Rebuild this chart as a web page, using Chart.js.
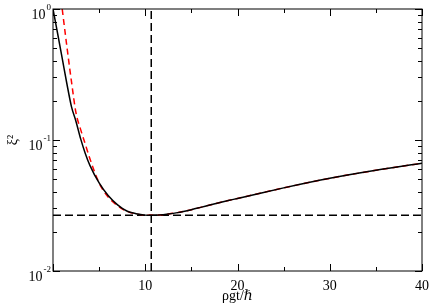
<!DOCTYPE html>
<html>
<head>
<meta charset="utf-8">
<script src="https://cdn.jsdelivr.net/npm/chart.js@4/dist/chart.umd.min.js"></script>
<style>
  html, body { margin: 0; padding: 0; background: #fff; }
  canvas { display: block; }
</style>
</head>
<body>
<canvas id="myChart" width="436" height="305"></canvas>
<script>
// black solid curve
const xBlack = [0, 0.5, 1, 1.5, 2, 2.5, 3, 3.5, 4, 5, 6, 7, 8, 9, 10, 10.65, 11.5, 12.5, 13.5, 15, 16, 17, 18, 19, 20, 22, 25, 30, 35, 40];
const yBlack = [1.0, 0.65, 0.42, 0.27, 0.18, 0.138, 0.102, 0.079, 0.064, 0.047, 0.0375, 0.032, 0.0287, 0.0274, 0.0267, 0.0266, 0.02672, 0.0272, 0.0279, 0.0294, 0.0306, 0.0319, 0.0332, 0.0345, 0.0358, 0.0386, 0.0431, 0.051, 0.0587, 0.0664];

// red dashed curve
const xRed = [1, 1.5, 2, 2.5, 3, 3.5, 4, 5, 6, 7, 8, 9, 10, 10.65, 11.5, 12.5, 13.5, 15, 16, 17, 18, 19, 20, 22, 25, 30, 35, 40];
const yRed = [1.0, 0.52, 0.28, 0.16, 0.12, 0.093, 0.072, 0.047, 0.0365, 0.0315, 0.0286, 0.0273, 0.0267, 0.0266, 0.02672, 0.0272, 0.0279, 0.0294, 0.0306, 0.0319, 0.0332, 0.0345, 0.0358, 0.0386, 0.0431, 0.051, 0.0587, 0.0664];

// dashed guide lines (minimum value and its position)
const xMin = [10.65, 10.65];
const yMinSpan = [0.01, 1];
const xSpan = [0, 40];
const yMin = [0.0266, 0.0266];

// axis ticks
const xTickLabels = [10, 20, 30, 40];
const yTickValues = [0.01, 0.1, 1];
const yTickExps = ['-2', '-1', '0'];

const FONT = "'Liberation Serif', 'DejaVu Serif', serif";

function pts(xs, ys) {
    return xs.map((x, i) => ({ x: x, y: ys[i] }));
}

// frame with inward ticks on all four sides, plus the 10^n labels
const frameTicks = {
    id: 'frameTicks',
    afterDraw(chart) {
        const { ctx, chartArea: a, scales } = chart;
        const x = scales.x, y = scales.y;
        ctx.save();
        ctx.strokeStyle = '#000';
        ctx.lineWidth = 1;
        ctx.strokeRect(a.left, a.top, a.right - a.left, a.bottom - a.top);
        ctx.beginPath();
        for (let v = 0; v <= 40; v += 5) {
            const len = v % 10 === 0 ? 7 : 4;
            const px = Math.round(x.getPixelForValue(v)) + 0.5;
            ctx.moveTo(px, a.bottom); ctx.lineTo(px, a.bottom - len);
            ctx.moveTo(px, a.top); ctx.lineTo(px, a.top + len);
        }
        for (let k = -2; k <= 0; k++) {
            for (let m = 1; m <= 9; m++) {
                const v = m * Math.pow(10, k);
                if (v > 1) break;
                const len = m === 1 ? 7 : 4;
                const py = Math.round(y.getPixelForValue(v)) + 0.5;
                ctx.moveTo(a.left, py); ctx.lineTo(a.left + len, py);
                ctx.moveTo(a.right, py); ctx.lineTo(a.right - len, py);
            }
        }
        ctx.stroke();

        // y labels: "10" with a raised exponent
        ctx.fillStyle = '#000';
        ctx.textBaseline = 'alphabetic';
        yTickValues.forEach((v, i) => {
            const py = y.getPixelForValue(v);
            ctx.font = '9px ' + FONT;
            const ew = ctx.measureText(yTickExps[i]).width;
            const ex = a.left - 2 - ew;
            ctx.textAlign = 'left';
            ctx.fillText(yTickExps[i], ex, py + 1);
            ctx.font = '14px ' + FONT;
            ctx.textAlign = 'right';
            ctx.fillText('10', ex - 1, py + 10);
        });
        ctx.restore();
    }
};

const ctx = document.getElementById('myChart').getContext('2d');

const myChart = new Chart(ctx, {
    type: 'line',
    data: {
        datasets: [
            {
                data: pts(xBlack, yBlack),
                borderColor: '#000',
                borderWidth: 1.5,
                pointRadius: 0,
                cubicInterpolationMode: 'monotone'
            },
            {
                data: pts(xRed, yRed),
                borderColor: '#ff0000',
                borderWidth: 1.5,
                borderDash: [6, 4],
                pointRadius: 0,
                cubicInterpolationMode: 'monotone'
            },
            {
                data: pts(xSpan, yMin),
                borderColor: '#000',
                borderWidth: 1.5,
                borderDash: [8, 4],
                pointRadius: 0
            },
            {
                data: pts(xMin, yMinSpan),
                borderColor: '#000',
                borderWidth: 1.5,
                borderDash: [8, 4],
                pointRadius: 0
            }
        ]
    },
    options: {
        responsive: false,
        animation: false,
        layout: { padding: { top: 9, right: 9, left: 0, bottom: 0 } },
        plugins: {
            legend: { display: false },
            tooltip: { enabled: false }
        },
        scales: {
            x: {
                type: 'linear',
                min: 0,
                max: 40,
                grid: { display: false, drawTicks: false },
                border: { display: false },
                afterBuildTicks: (scale) => {
                    scale.ticks = xTickLabels.map((v) => ({ value: v }));
                },
                afterFit: (scale) => { scale.height = 34; },
                ticks: {
                    color: '#000',
                    padding: 7,
                    maxRotation: 0,
                    font: { family: FONT, size: 14 }
                },
                title: {
                    display: true,
                    text: 'ρgt/ℏ',
                    color: '#000',
                    padding: 0,
                    font: { family: FONT, size: 14 }
                }
            },
            y: {
                type: 'logarithmic',
                min: 0.01,
                max: 1,
                grid: { display: false, drawTicks: false },
                border: { display: false },
                afterFit: (scale) => { scale.width = 53; },
                ticks: { display: false },
                title: {
                    display: true,
                    text: 'ξ²',
                    color: '#000',
                    padding: { top: 5, bottom: 0 },
                    font: { family: FONT, size: 14 }
                }
            }
        }
    },
    plugins: [frameTicks]
});
</script>
</body>
</html>
